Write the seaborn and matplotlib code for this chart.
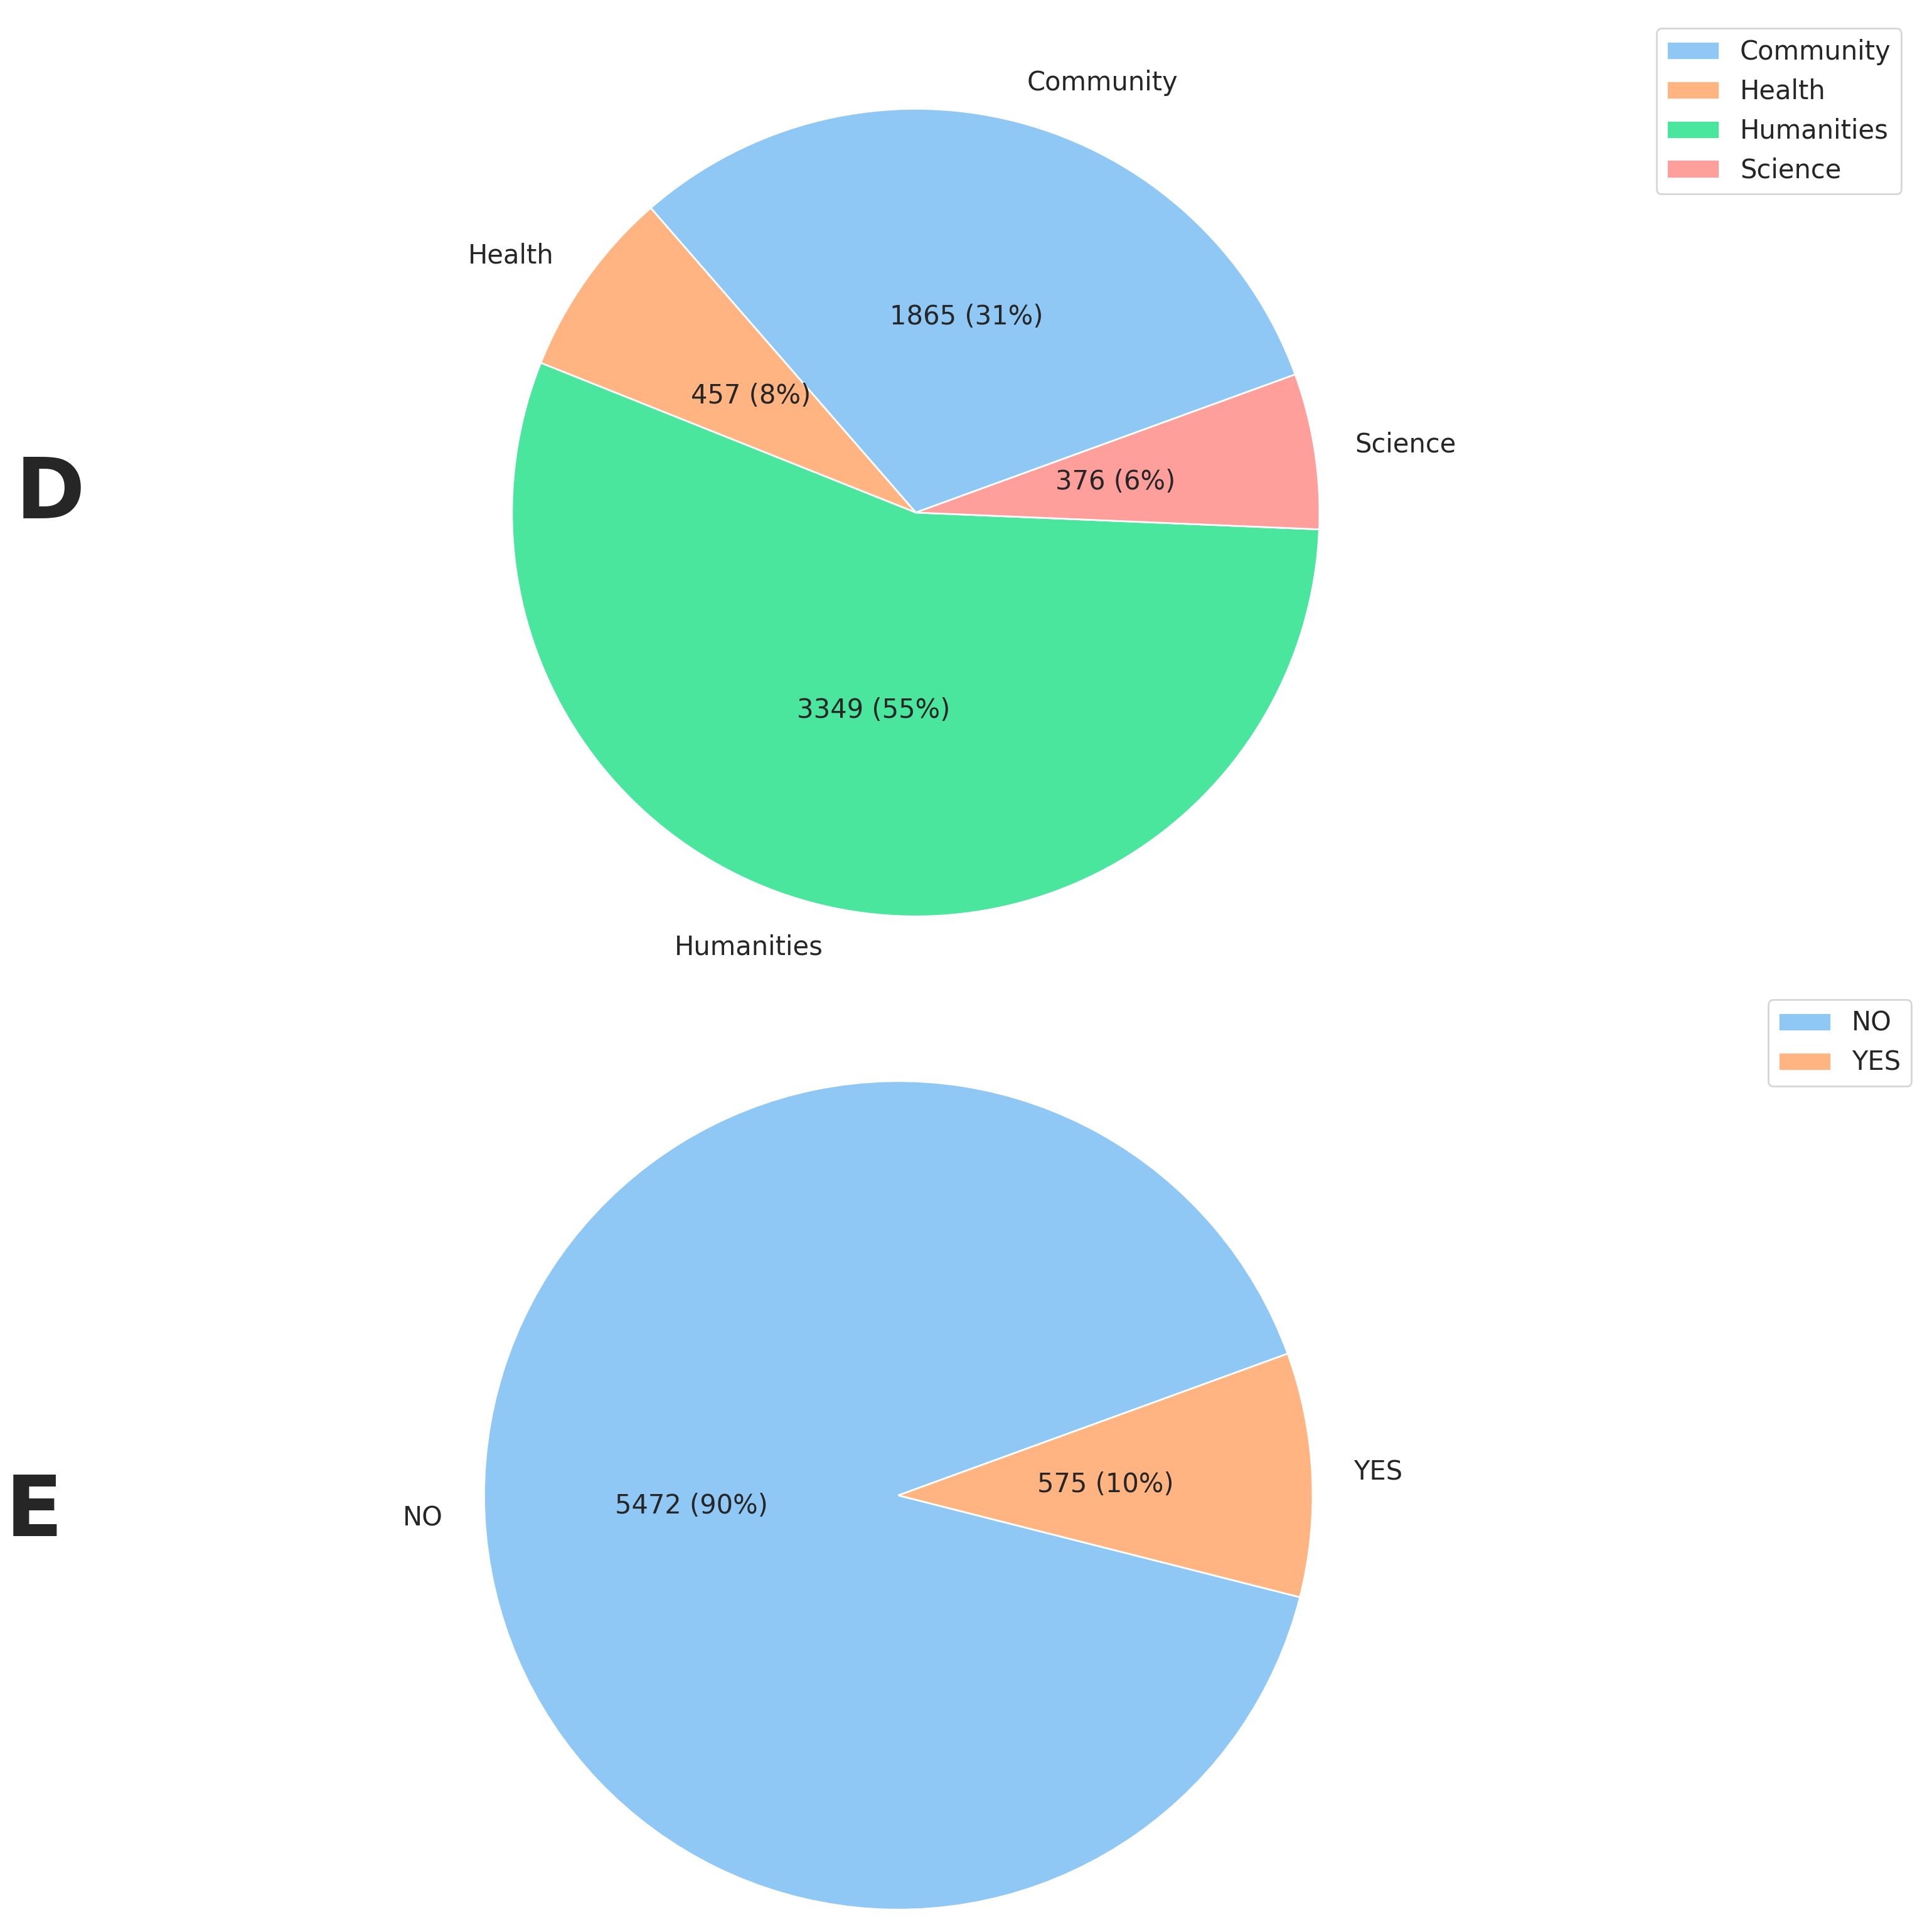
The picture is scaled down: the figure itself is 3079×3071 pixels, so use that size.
import matplotlib
matplotlib.use("Agg")
import matplotlib.pyplot as plt
import seaborn as sns

sns.set_theme(style="white")
plt.rcParams['font.family'] = ['DejaVu Sans']

fields = ["Community", "Health", "Humanities", "Science"]
field_counts = [1865, 457, 3349, 376]
field_colors = ["#8fc8f5", "#ffb482", "#4be69e", "#ff9f9b"]

answers = ["NO", "YES"]
answer_counts = [5472, 575]
answer_colors = ["#8fc8f5", "#ffb482"]

def fmt(vals):
    tot = sum(vals)
    def f(p):
        return f"{int(round(p * tot / 100))} ({p:.0f}%)"
    return f

fig = plt.figure(figsize=(15.395, 15.355), dpi=200)

ax1 = fig.add_axes([0.474 - 0.209, 0.734 - 0.21, 0.418, 0.42])
w1, _, _ = ax1.pie(field_counts, labels=fields, colors=field_colors, startangle=20,
                   autopct=fmt(field_counts), pctdistance=0.5, labeldistance=1.1,
                   textprops={"fontsize": 15})
ax1.set_xlim(-1, 1); ax1.set_ylim(-1, 1); ax1.set_aspect("equal"); ax1.axis("off")
fig.legend(w1, fields, loc="upper right", bbox_to_anchor=(0.991, 0.992), fontsize=15)

ax2 = fig.add_axes([0.465 - 0.215, 0.224 - 0.215, 0.43, 0.43])
w2, _, _ = ax2.pie(answer_counts, labels=answers, colors=answer_colors, startangle=20,
                   autopct=fmt(answer_counts), pctdistance=0.5, labeldistance=1.1,
                   textprops={"fontsize": 15})
ax2.set_xlim(-1, 1); ax2.set_ylim(-1, 1); ax2.set_aspect("equal"); ax2.axis("off")
fig.legend(w2, answers, loc="upper right", bbox_to_anchor=(0.996, 0.488), fontsize=15)

fig.text(0.008, 0.743, "D", fontsize=48, fontweight="bold", va="center", ha="left")
fig.text(0.003, 0.215, "E", fontsize=48, fontweight="bold", va="center", ha="left")

fig.savefig("out.png", dpi=200)
